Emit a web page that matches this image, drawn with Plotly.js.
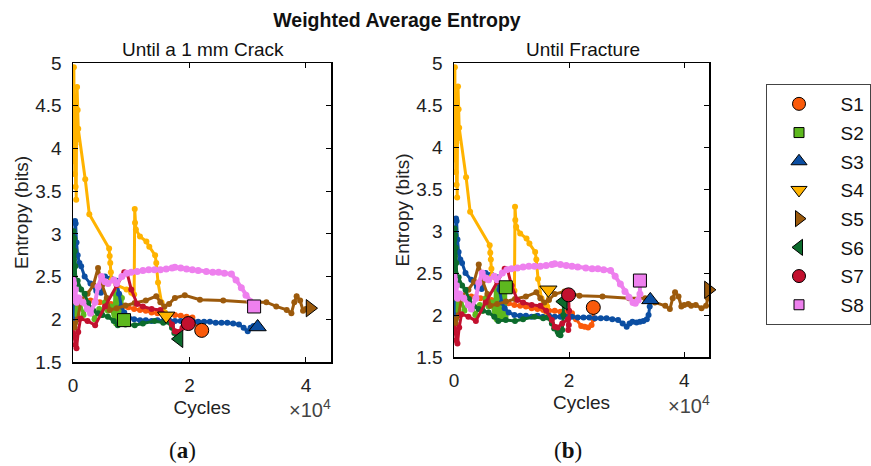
<!DOCTYPE html>
<html>
<head>
<meta charset="utf-8">
<script src="https://cdn.plot.ly/plotly-3.0.1.min.js"></script>
<style>html,body{margin:0;padding:0;background:#fff}#chart{width:871px;height:466px}</style>
</head>
<body>
<div id="chart"></div>
<script>
// Weighted average entropy (bits) vs. fatigue cycles for eight specimens.
const specimens = ['S1', 'S2', 'S3', 'S4', 'S5', 'S6', 'S7', 'S8'];
const colors = ['#FA5A0A', '#5DB81E', '#0B4EA2', '#FFB300', '#9C5A0C', '#0C6B2C', '#C2102E', '#EE80EE'];
const symbols = ['circle', 'square', 'triangle-up', 'triangle-down', 'triangle-right', 'triangle-left', 'circle', 'square'];

// cycles at which the 1 mm crack was reached (panel a ends there)
const crackCycles = [22100, 8760, 31700, 16000, 40700, 18200, 19800, 31100];

const s1Cycles = [0, 100, 250, 500, 900, 1500, 2200, 3000, 3800, 4600, 5500, 6500, 7500, 8500, 9500, 10500, 11500, 12500, 13500, 14500, 15500, 16500, 17500, 18500, 19500, 20500, 21200, 22100, 22700, 23300, 23900, 24200, 24200];
const s1Entropy = [1.95, 2.25, 2.08, 2.2, 2.15, 2.22, 2.2, 2.22, 2.21, 2.2, 2.19, 2.18, 2.17, 2.15, 2.14, 2.12, 2.11, 2.1, 2.08, 2.07, 2.06, 2.05, 2.05, 2.04, 2.03, 2.02, 1.95, 1.87, 1.86, 1.85, 1.88, 1.95, 2.09];

const s2Cycles = [0, 150, 300, 500, 800, 1200, 1800, 2500, 3000, 3700, 4500, 5000, 5500, 6000, 6500, 7000, 7200, 7400, 7600, 7800, 8000, 8200, 8400, 8600, 8760, 8800, 8850, 8900, 8950, 9000];
const s2Entropy = [2.05, 2.18, 1.95, 2.12, 2.0, 2.2, 2.05, 2.18, 2.12, 2.0, 2.12, 2.05, 2.2, 2.1, 2.15, 2.0, 2.3, 1.95, 2.32, 1.97, 2.28, 2.0, 2.25, 1.97, 1.99, 2.28, 1.95, 2.3, 1.98, 2.33];

const s3Cycles = [0, 50, 150, 250, 350, 450, 600, 800, 1100, 1400, 2000, 3000, 4000, 4800, 5500, 6500, 7500, 7900, 8300, 8800, 9500, 10500, 11500, 12500, 13500, 14500, 15500, 16500, 17500, 18500, 19500, 20500, 21500, 22500, 23500, 24500, 25500, 26500, 27500, 28500, 29300, 30000, 30500, 31000, 31700, 32300, 32900, 33500, 33800, 34000, 34100];
const s3Entropy = [2.0, 2.3, 2.6, 2.9, 3.15, 3.12, 2.9, 2.75, 2.66, 2.62, 2.5, 2.42, 2.33, 2.31, 2.5, 2.48, 2.45, 2.3, 2.15, 2.08, 2.03, 2.0, 1.99, 1.99, 1.98, 1.99, 1.98, 1.99, 1.98, 1.98, 1.98, 1.98, 1.97, 1.97, 1.97, 1.96, 1.96, 1.96, 1.95, 1.94, 1.9, 1.86, 1.9, 1.92, 1.91, 1.92, 1.93, 1.95, 2.0, 2.1, 2.18];

const s4Cycles = [0, 50, 100, 150, 200, 250, 300, 350, 400, 450, 500, 550, 600, 700, 800, 900, 2100, 2800, 6200, 6300, 6400, 6500, 6600, 7500, 9200, 10000, 10500, 10600, 10650, 10800, 11500, 12600, 13100, 14100, 14300, 14600, 15200, 15800, 16000, 16200, 16400];
const s4Entropy = [3.85, 4.3, 4.6, 4.95, 4.0, 4.45, 3.7, 4.3, 4.05, 3.55, 4.5, 3.4, 4.1, 4.72, 4.45, 4.23, 3.64, 3.23, 2.83, 2.74, 2.66, 2.55, 2.46, 2.4, 2.35, 2.31, 2.29, 3.29, 3.13, 3.05, 2.97, 2.91, 2.85, 2.75, 2.66, 2.43, 2.2, 2.08, 2.04, 2.1, 2.3];

const s5Cycles = [0, 300, 800, 1400, 2500, 3500, 4300, 5000, 5800, 6300, 7500, 9000, 10600, 12500, 14300, 15000, 15700, 16500, 17500, 19200, 21800, 25800, 30400, 33200, 34900, 36700, 37500, 38000, 38400, 39000, 39500, 40000, 40700, 41200, 42000, 43000, 43800, 44100, 44200];
const s5Entropy = [1.95, 1.9, 2.0, 2.23, 2.3, 2.4, 2.6, 2.4, 2.25, 2.11, 2.13, 2.16, 2.19, 2.22, 2.27, 2.2, 2.15, 2.18, 2.25, 2.28, 2.23, 2.22, 2.2, 2.2, 2.15, 2.11, 2.07, 2.2, 2.27, 2.22, 2.1, 2.12, 2.13, 2.11, 2.12, 2.08, 2.11, 2.2, 2.3];

const s6Cycles = [0, 30, 60, 100, 150, 200, 250, 300, 400, 500, 800, 1400, 2000, 2600, 3500, 4300, 5000, 6000, 7000, 7700, 9000, 10600, 12000, 14000, 15500, 16300, 17000, 17400, 18000, 18200, 18500, 18800, 19000, 19000];
const s6Entropy = [2.2, 2.6, 2.9, 3.03, 2.7, 2.95, 2.5, 2.8, 2.62, 2.4, 2.45, 2.35, 2.3, 2.19, 2.1, 2.07, 2.05, 2.03, 1.98, 1.93, 1.94, 1.93, 1.95, 1.98, 1.96, 1.97, 1.9, 1.84, 1.8, 1.77, 1.76, 1.82, 2.0, 2.16];

const s7Cycles = [0, 200, 400, 600, 900, 1300, 2500, 3800, 5500, 7500, 8800, 9300, 10000, 11000, 12000, 13500, 15000, 16000, 17000, 17500, 18000, 18800, 19800, 19850, 19950, 20000, 19900];
const s7Entropy = [1.84, 1.8, 1.7, 1.66, 1.85, 2.01, 1.98, 1.93, 2.15, 2.4, 2.55, 2.54, 2.35, 2.18, 2.15, 2.12, 2.11, 2.05, 1.94, 1.86, 1.85, 1.9, 1.95, 1.82, 1.88, 2.05, 2.24];

const s8Cycles = [0, 50, 100, 200, 400, 600, 1000, 1700, 2500, 3000, 3800, 4300, 4900, 5500, 6000, 7000, 7500, 8400, 9200, 10000, 11000, 12000, 13000, 14000, 15000, 16000, 17000, 17500, 18500, 19500, 20500, 21500, 22900, 24000, 25000, 26000, 27200, 28000, 28900, 29700, 30400, 31100, 31500, 32000, 32300, 32300];
const s8Entropy = [2.46, 2.3, 2.42, 2.25, 2.35, 2.2, 2.25, 2.2, 2.12, 2.07, 2.2, 2.38, 2.5, 2.44, 2.42, 2.46, 2.42, 2.5, 2.54, 2.55, 2.56, 2.57, 2.58, 2.58, 2.58, 2.59, 2.6, 2.61, 2.6, 2.59, 2.58, 2.57, 2.56, 2.55, 2.55, 2.54, 2.53, 2.46, 2.37, 2.28, 2.21, 2.15, 2.14, 2.18, 2.25, 2.41];

const cyclesAll = [s1Cycles, s2Cycles, s3Cycles, s4Cycles, s5Cycles, s6Cycles, s7Cycles, s8Cycles];
const entropyAll = [s1Entropy, s2Entropy, s3Entropy, s4Entropy, s5Entropy, s6Entropy, s7Entropy, s8Entropy];

const xTickVals = [0, 20000, 40000];
const xTickText = ['0', '2', '4'];
const yTickVals = [1.5, 2, 2.5, 3, 3.5, 4, 4.5, 5];
const yTickText = ['1.5', '2', '2.5', '3', '3.5', '4', '4.5', '5'];

const endSizes = [14, 13, 15, 15, 15, 15, 14, 13];
const legendSizes = [13, 10, 14, 14, 14, 14, 13, 10];

const FONT = 'Liberation Sans, Arial, Helvetica, sans-serif';
const W = 871, H = 466;

const traces = [];
const endTraces = [];
function addPanel(xa, ya, truncate) {
  for (let i = 0; i < specimens.length; i++) {
    const xs = [], ys = [];
    for (let k = 0; k < cyclesAll[i].length; k++) {
      if (truncate && cyclesAll[i][k] > crackCycles[i]) break;
      xs.push(cyclesAll[i][k]); ys.push(entropyAll[i][k]);
    }
    const isPink = i === 7;
    traces.push({
      type: 'scatter', mode: 'lines+markers', x: xs, y: ys, xaxis: xa, yaxis: ya,
      line: {color: colors[i], width: isPink ? 4 : 3},
      marker: {color: colors[i], size: isPink ? 7 : 6},
      showlegend: false, hoverinfo: 'skip'
    });
    endTraces.push({
      type: 'scatter', mode: 'markers', x: [xs[xs.length - 1]], y: [ys[ys.length - 1]], xaxis: xa, yaxis: ya,
      marker: {symbol: symbols[i], color: colors[i], size: endSizes[i], line: {color: '#000', width: 1}},
      cliponaxis: false, showlegend: false, hoverinfo: 'skip'
    });
  }
}
addPanel('x', 'y', true);
addPanel('x2', 'y2', false);

const legendTraces = specimens.map((name, i) => ({
  type: 'scatter', mode: 'markers', x: [null], y: [null], xaxis: 'x', yaxis: 'y',
  name: '\u2002' + name, legendgroup: name,
  marker: {symbol: symbols[i], color: colors[i], size: legendSizes[i], line: {color: '#000', width: 1}},
  showlegend: true, hoverinfo: 'skip'
}));

function xAxis(domain, anchor) {
  return {
    domain: domain, anchor: anchor, range: [0, 44300],
    tickvals: xTickVals, ticktext: xTickText,
    ticks: 'inside', ticklen: 5, tickwidth: 1, tickcolor: '#000',
    mirror: 'ticks', showline: true, linecolor: '#000', linewidth: 1.5,
    showgrid: false, zeroline: false, ticklabelstandoff: 6,
    tickfont: {family: FONT, size: 19, color: '#222'},
    title: {text: 'Cycles', font: {family: FONT, size: 19, color: '#222'}, standoff: 5}
  };
}
function yAxis(domain, anchor) {
  return {
    domain: domain, anchor: anchor, range: [1.5, 5],
    tickvals: yTickVals, ticktext: yTickText,
    ticks: 'inside', ticklen: 5, tickwidth: 1, tickcolor: '#000',
    mirror: 'ticks', showline: true, linecolor: '#000', linewidth: 1.5,
    showgrid: false, zeroline: false, ticklabelstandoff: 6,
    tickfont: {family: FONT, size: 19, color: '#222'},
    title: {text: 'Entropy (bits)', font: {family: FONT, size: 19, color: '#222'}, standoff: 1}
  };
}

const layout = {
  width: W, height: H,
  margin: {l: 0, r: 0, t: 0, b: 0},
  paper_bgcolor: '#fff', plot_bgcolor: '#fff',
  font: {family: FONT, color: '#222'},
  title: {text: '<b>Weighted Average Entropy</b>', font: {family: FONT, size: 19.5, color: '#111'},
    x: 397 / W, xanchor: 'center', xref: 'paper', y: 1 - 20 / H, yanchor: 'middle', yref: 'paper'},
  xaxis: xAxis([73 / W, 331 / W], 'y'),
  yaxis: yAxis([1 - 362 / H, 1 - 63 / H], 'x'),
  xaxis2: xAxis([454 / W, 709 / W], 'y2'),
  yaxis2: yAxis([1 - 357 / H, 1 - 63 / H], 'x2'),
  showlegend: true,
  legend: {
    x: 766 / W, y: 1 - 84 / H, xanchor: 'left', yanchor: 'top', xref: 'paper', yref: 'paper',
    bordercolor: '#444', borderwidth: 1, bgcolor: '#fff',
    font: {family: FONT, size: 19, color: '#111'},
    traceorder: 'grouped', tracegroupgap: 1, itemwidth: 54
  },
  annotations: [
    {text: 'Until a 1 mm Crack', xref: 'paper', yref: 'paper', x: 203 / W, y: 1 - 49 / H, xanchor: 'center', yanchor: 'middle', showarrow: false, font: {family: FONT, size: 19, color: '#111'}},
    {text: 'Until Fracture', xref: 'paper', yref: 'paper', x: 583 / W, y: 1 - 49 / H, xanchor: 'center', yanchor: 'middle', showarrow: false, font: {family: FONT, size: 19, color: '#111'}},
    {text: '×10<sup>4</sup>', xref: 'paper', yref: 'paper', x: 310 / W, y: 1 - 408 / H, xanchor: 'center', yanchor: 'middle', showarrow: false, font: {family: FONT, size: 20, color: '#444'}},
    {text: '×10<sup>4</sup>', xref: 'paper', yref: 'paper', x: 689 / W, y: 1 - 404 / H, xanchor: 'center', yanchor: 'middle', showarrow: false, font: {family: FONT, size: 20, color: '#444'}},
    {text: '(<b>a</b>)', xref: 'paper', yref: 'paper', x: 182 / W, y: 1 - 450 / H, xanchor: 'center', yanchor: 'middle', showarrow: false, font: {family: 'Liberation Serif, Times New Roman, serif', size: 23, color: '#111'}},
    {text: '(<b>b</b>)', xref: 'paper', yref: 'paper', x: 568 / W, y: 1 - 450 / H, xanchor: 'center', yanchor: 'middle', showarrow: false, font: {family: 'Liberation Serif, Times New Roman, serif', size: 23, color: '#111'}}
  ]
};

Plotly.newPlot('chart', traces.concat(endTraces, legendTraces), layout, {staticPlot: true, displayModeBar: false});
</script>
</body>
</html>
